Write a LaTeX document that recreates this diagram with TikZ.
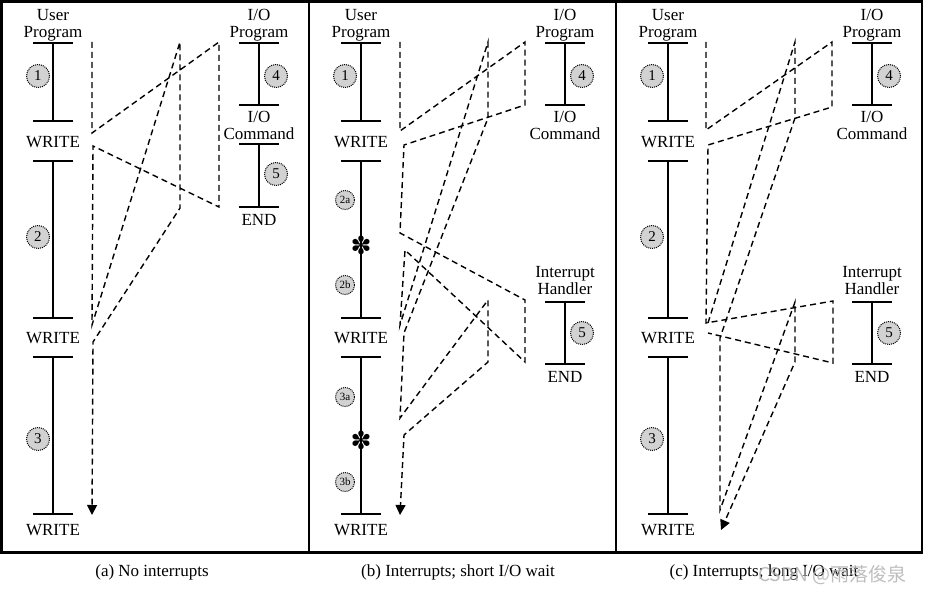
\documentclass[tikz,border=0pt]{standalone}
\usepackage{fontspec}
\setmainfont{Liberation Serif}
\newfontfamily\symfont{DejaVu Sans}
\newfontfamily\cjkfont{Noto Sans CJK SC}
\usetikzlibrary{arrows.meta}

\begin{document}
\begin{tikzpicture}[x=1pt,y=-1pt,
    txt/.style={font=\fontsize{17}{17}\selectfont, inner sep=0pt, align=center},
    prog/.style={line width=1.3pt},
    flow/.style={line width=1.4pt, dash pattern=on 6pt off 4pt},
    frame/.style={line width=2.5pt},
    stepnum/.style={circle, draw, densely dotted, line width=1pt, fill=gray!35, minimum size=23pt, inner sep=0pt, font=\fontsize{15}{15}\selectfont},
    stepsub/.style={stepnum, minimum size=19pt, font=\fontsize{11}{11}\selectfont},
    intr/.style={font=\symfont\fontsize{25}{25}\selectfont, inner sep=0pt},
    endarrow/.style={-{Triangle[width=10pt,length=10pt]}}]
\useasboundingbox (0,0) rectangle (926,594);

% panels
\draw[frame] (1.5,1.5) rectangle (309,552.5);
\draw[frame] (309,1.5) rectangle (616,552.5);
\draw[frame] (616,1.5) rectangle (922,552.5);

% user programs
\foreach \ux/\p in {53/a,361/b,668/c}{
  \node[txt] (user\p) at (\ux,25) {User\\Program};
  \foreach \ya/\yb in {43/121,161/318,357/514}
    \draw[prog] (\ux-20,\ya) -- (\ux+20,\ya) (\ux,\ya) -- (\ux,\yb) (\ux-20,\yb) -- (\ux+20,\yb);
  \foreach \y/\k in {142/1,338/2,530/3}
    \node[txt] (write\p\k) at (\ux,\y) {WRITE};
}

% I/O programs
\foreach \ix/\p in {259/a,565/b,872/c}{
  \node[txt] (iop\p) at (\ix,25) {I/O\\Program};
  \draw[prog] (\ix-20,43) -- (\ix+20,43) (\ix,43) -- (\ix,105) (\ix-20,105) -- (\ix+20,105);
  \node[txt] (iocmd\p) at (\ix,125) {I/O\\Command};
  \node[stepnum] (four\p) at (\ix+17,76) {4};
}
\draw[prog] (239,144) -- (279,144) (259,144) -- (259,207) (239,207) -- (279,207);
\node[txt] (enda) at (259,220) {END};
\node[stepnum] (fivea) at (276,174) {5};

% interrupt handlers
\foreach \ix/\p in {565/b,872/c}{
  \node[txt] (handler\p) at (\ix,280.5) {Interrupt\\Handler};
  \draw[prog] (\ix-20,302) -- (\ix+20,302) (\ix,302) -- (\ix,364) (\ix-20,364) -- (\ix+20,364);
  \node[txt] (end\p) at (\ix,377) {END};
  \node[stepnum] (five\p) at (\ix+17,333) {5};
}

% step numbers
\node[stepnum] (onea) at (38,76) {1};
\node[stepnum] (twoa) at (38,237) {2};
\node[stepnum] (threea) at (38,439) {3};
\node[stepnum] (oneb) at (345,76) {1};
\node[stepsub] (twoab) at (345,200) {2a};
\node[stepsub] (twobb) at (345,285) {2b};
\node[stepsub] (threeab) at (345,397) {3a};
\node[stepsub] (threebb) at (345,482) {3b};
\node[stepnum] (onec) at (652,76) {1};
\node[stepnum] (twoc) at (652,237) {2};
\node[stepnum] (threec) at (652,439) {3};
\node[intr] (intb1) at (361,245) {✽};
\node[intr] (intb2) at (361,440) {✽};

% control flow (a)
\draw[flow, endarrow] (92,42) -- (92,133) -- (219,42) -- (219,207) -- (93,146) -- (92,325)
    -- (180,42) -- (180,208) -- (93,342) -- (92,515);

% control flow (b)
\draw[flow, endarrow] (400,42) -- (400,131) -- (525,42) -- (525,105) -- (404,145) -- (400,233)
    -- (525,300) -- (525,362) -- (405,250) -- (400,325) -- (488,42) -- (488,118) -- (404,333)
    -- (400,418) -- (488,300) -- (488,362) -- (404,435) -- (400,515);

% control flow (c)
\draw[flow] (706,42) -- (706,130) -- (832,42) -- (832,107) -- (708,145) -- (706,323)
    -- (833,301) -- (833,363) -- (708,333);
\draw[flow, endarrow] (708,323) -- (795,42) -- (795,118) -- (720,338) -- (720,510)
    -- (795,302) -- (795,362) -- (721,530);

% captions
\node[txt, anchor=base] (capa) at (152,576) {(a) No interrupts};
\node[txt, anchor=base] (capb) at (458,576) {(b) Interrupts; short I/O wait};
\node[txt, anchor=base] (capc) at (764,576) {(c) Interrupts; long I/O wait};
\node[font=\cjkfont\fontsize{19}{19}\selectfont, text=gray!60, opacity=0.85, inner sep=0pt, anchor=base west] (mark) at (758,581) {CSDN @雨落俊泉};
\end{tikzpicture}
\end{document}
